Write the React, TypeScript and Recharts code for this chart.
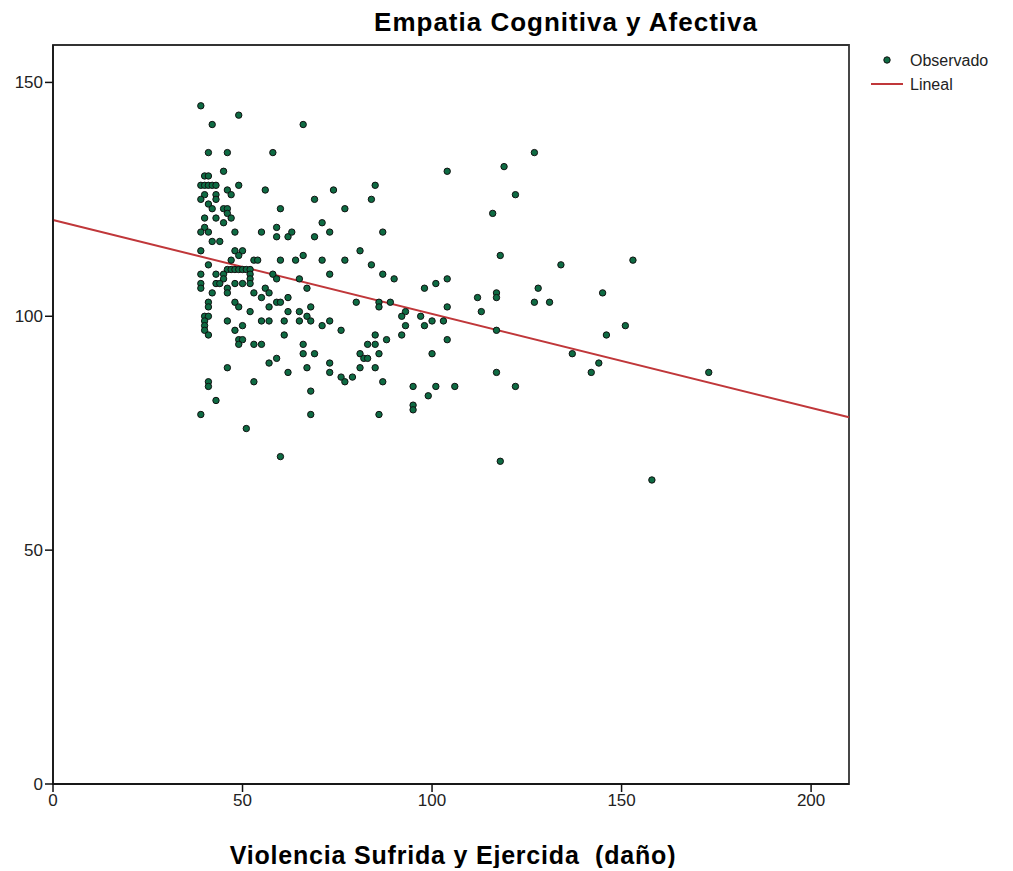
import React from 'react';
import {
  ScatterChart,
  Scatter,
  XAxis,
  YAxis,
  ReferenceLine,
  ReferenceArea,
} from 'recharts';

// Violencia (x) / Empatia (y)
const violencia = [
  39, 49, 42, 66, 41, 46, 58, 127, 104, 119, 45,
  40, 41, 39, 40, 41, 42, 43, 49, 46, 56, 40, 43, 47, 39, 43, 41,
  42, 45, 46, 60, 46, 40, 43, 47, 45, 40, 59, 41, 39, 48, 55, 59, 62,
  42, 44, 39, 48, 50, 49, 47, 53, 54, 60, 41,
  46, 47, 48, 49, 50, 51, 52, 39, 43, 45, 52, 58, 45, 52, 59,
  39, 43, 44, 48, 50, 52, 39, 46, 56, 42, 46, 53, 57, 55, 62,
  41, 48, 59, 60, 41, 49, 57, 52, 40, 41, 40, 46, 55, 57, 61,
  40, 50, 40, 48, 41, 61, 49, 50, 49, 53, 55,
  46, 57, 59, 41, 53, 41, 43, 39, 51, 60,
  74, 85, 69, 84, 77, 71, 73, 87, 63, 69, 81, 66, 64, 71, 77, 84, 73, 87, 65, 67,
  80, 86, 86, 62, 65, 68, 65, 67, 68, 71, 73, 76, 85, 88, 83, 85, 66, 66, 69,
  81, 82, 83, 86, 67, 73, 73, 81, 85, 62, 76, 77, 79, 87, 68, 68, 86,
  90, 89, 93, 92, 104, 97, 98, 101, 104, 98, 100, 103, 104, 100, 93, 92,
  95, 99, 101, 106, 95, 95,
  122, 116, 118, 134, 153, 112, 117, 117, 128, 127, 131, 145, 113, 117,
  151, 146, 137, 144, 142, 117, 173, 122, 118, 158,
];

const empatia = [
  145, 143, 141, 141, 135, 135, 135, 135, 131, 132, 131,
  130, 130, 128, 128, 128, 128, 128, 128, 127, 127, 126, 126, 126, 125, 125, 124,
  123, 123, 123, 123, 122, 121, 121, 121, 120, 119, 119, 118, 118, 118, 118, 117, 117,
  116, 116, 114, 114, 114, 113, 112, 112, 112, 112, 111,
  110, 110, 110, 110, 110, 110, 110, 109, 109, 109, 109, 109, 108, 108, 108,
  107, 107, 107, 107, 107, 107, 106, 106, 106, 105, 105, 105, 105, 104, 104,
  103, 103, 103, 103, 102, 102, 102, 101, 100, 100, 99, 99, 99, 99, 99,
  98, 98, 97, 97, 96, 96, 95, 95, 94, 94, 94,
  89, 90, 91, 86, 86, 85, 82, 79, 76, 70,
  127, 128, 125, 125, 123, 120, 118, 118, 118, 117, 114, 113, 112, 112, 112, 111, 109, 109, 108, 106,
  103, 103, 102, 101, 101, 102, 99, 100, 99, 98, 99, 97, 96, 95, 94, 94, 94, 92, 92,
  92, 91, 91, 92, 89, 90, 88, 89, 89, 88, 87, 86, 87, 86, 84, 79, 79,
  108, 103, 101, 100, 102, 100, 106, 107, 108, 98, 99, 99, 95, 92, 98, 96,
  85, 83, 85, 85, 81, 80,
  126, 122, 113, 111, 112, 104, 105, 104, 106, 103, 103, 105, 101, 97,
  98, 96, 92, 90, 88, 88, 88, 85, 69, 65,
];

// recta de ajuste lineal (extremos)
const linealX = [0, 210];
const linealY = [120.6, 78.4];

const xTicks = [0, 50, 100, 150, 200];
const yTicks = [0, 50, 100, 150];

const puntos = violencia.map((x, i) => ({ x, y: empatia[i] }));

const FONT = '"Liberation Sans", Arial, sans-serif';

const Punto = (props: any) => (
  <circle
    cx={props.cx}
    cy={props.cy}
    r={3.2}
    fill="#0e6b43"
    stroke="#111"
    strokeWidth={1}
  />
);

const App: React.FC = () => {
  return (
    <div style={{ position: 'relative', width: 1000, height: 860, fontFamily: FONT }}>
      <div
        style={{
          position: 'absolute',
          left: 558,
          top: 0,
          transform: 'translateX(-50%)',
          fontSize: 26,
          fontWeight: 'bold',
          letterSpacing: 1,
          lineHeight: '28px',
          whiteSpace: 'nowrap',
          color: '#000',
        }}
      >
        Empatia Cognitiva y Afectiva
      </div>

      <ScatterChart
        width={1000}
        height={860}
        margin={{ top: 37, right: 159, bottom: 54, left: 0 }}
      >
        <XAxis
          type="number"
          dataKey="x"
          domain={[0, 210]}
          ticks={xTicks}
          height={30}
          tickSize={8}
          stroke="#111"
          strokeWidth={1.5}
          tick={{ fill: '#222', fontSize: 17, fontFamily: FONT }}
        />
        <YAxis
          type="number"
          dataKey="y"
          domain={[0, 158]}
          ticks={yTicks}
          width={45}
          tickSize={8}
          stroke="#111"
          strokeWidth={1.5}
          tick={{ fill: '#222', fontSize: 17, fontFamily: FONT }}
        />
        <ReferenceArea
          x1={0}
          x2={210}
          y1={0}
          y2={158}
          fill="none"
          fillOpacity={0}
          stroke="#333"
          strokeWidth={1.8}
        />
        <Scatter
          name="Observado"
          data={puntos}
          shape={Punto}
          isAnimationActive={false}
        />
        <ReferenceLine
          segment={[
            { x: linealX[0], y: linealY[0] },
            { x: linealX[1], y: linealY[1] },
          ]}
          stroke="#c0373a"
          strokeWidth={2}
        />
      </ScatterChart>

      {/* leyenda */}
      <svg
        style={{ position: 'absolute', left: 855, top: 40 }}
        width={145}
        height={50}
      >
        <circle cx={24} cy={12} r={3.2} fill="#0e6b43" stroke="#111" strokeWidth={1} />
        <text x={47} y={17.5} fontSize={16} fontFamily={FONT} fill="#222">
          Observado
        </text>
        <line x1={8} y1={36} x2={40} y2={36} stroke="#c0373a" strokeWidth={2} />
        <text x={47} y={41.5} fontSize={16} fontFamily={FONT} fill="#222">
          Lineal
        </text>
      </svg>

      <div
        style={{
          position: 'absolute',
          left: 445,
          top: 833,
          transform: 'translateX(-50%)',
          fontSize: 25,
          fontWeight: 'bold',
          letterSpacing: 0.8,
          lineHeight: '28px',
          whiteSpace: 'nowrap',
          color: '#000',
        }}
      >
        Violencia Sufrida y Ejercida&nbsp;&nbsp;(daño)
      </div>
    </div>
  );
};

export default App;
